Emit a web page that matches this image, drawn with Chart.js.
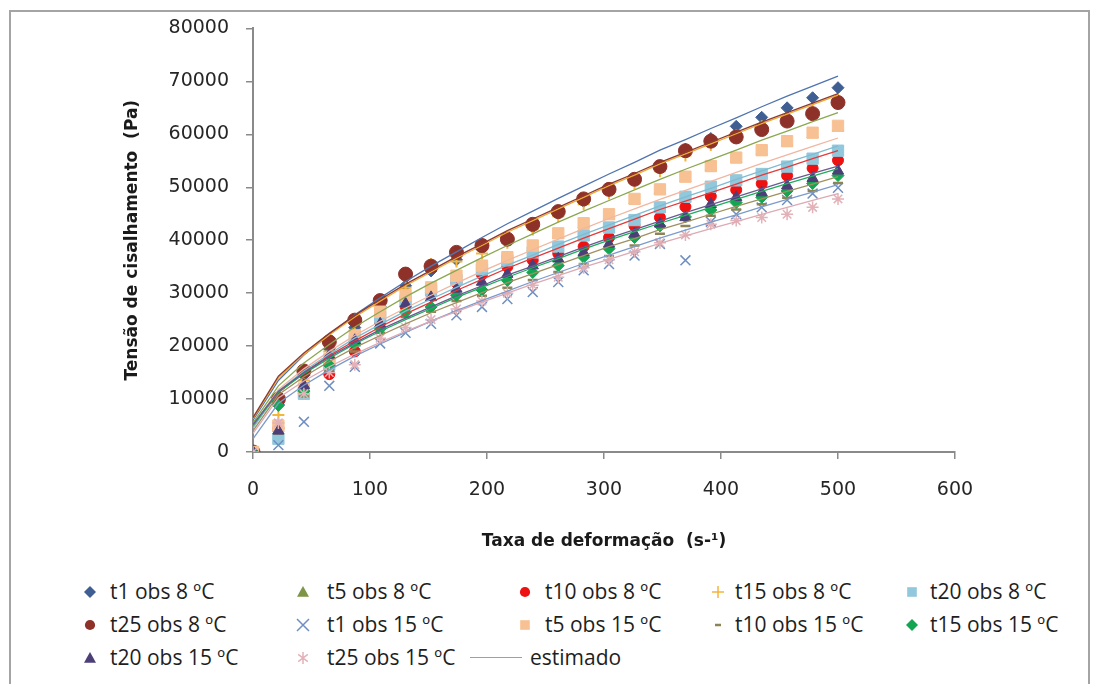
<!DOCTYPE html>
<html>
<head>
<meta charset="utf-8">
<title>Tensão de cisalhamento</title>
<script src="https://cdn.jsdelivr.net/npm/chart.js"></script>
<style>
body{margin:0;background:#fff;}
#wrap{position:relative;width:1096px;height:684px;overflow:hidden;background:#fff;}
#frame{position:absolute;left:9px;top:10px;width:1081px;height:700px;border:2px solid #a4a4a4;box-sizing:border-box;}
#chart{position:absolute;left:0;top:0;}
.leg{position:absolute;font-family:"Open Sans";font-size:21px;color:#1e1e1e;white-space:nowrap;line-height:24px;}
.mk{position:absolute;}
</style>
</head>
<body>
<div id="wrap">
  <div id="frame"></div>
  <canvas id="chart" width="1096" height="560"></canvas>
  <div id="legend"></div>
</div>
<script>
// shear rate (s-1)
const xs = [0, 21.7, 43.5, 65.2, 87, 108.7, 130.4, 152.2, 173.9, 195.7, 217.4, 239.1, 260.9, 282.6, 304.3, 326.1, 347.8, 369.6, 391.3, 413, 434.8, 456.5, 478.3, 500];

// observed shear stress (Pa)
const t1obs8   = [0, 9000, 14500, 19500, 23500, 27500, 31400, 34200, 36300, 38300, 40000, 42500, 45000, 47300, 49300, 51300, 53700, 57200, 59200, 61500, 63200, 65000, 66900, 68800];
const t5obs8   = [0, 4500, 12000, 17000, 21500, 25500, 29000, 30800, 33000, 35000, 36500, 38700, 41000, 43000, 44600, 47500, 49400, 51700, 53700, 55300, 56700, 58400, 60000, 61200];
const t10obs8  = [0, 4500, 11000, 14700, 19000, 24500, 27500, 30000, 32000, 33500, 35000, 36200, 37500, 38800, 40500, 42700, 44300, 46300, 48300, 49500, 50700, 52200, 53600, 55100];
const t15obs8  = [0, 7000, 13500, 19000, 23000, 27000, 31000, 35500, 36000, 37500, 39500, 42000, 44500, 46800, 48800, 50800, 53000, 56000, 58000, 59800, 61500, 63000, 64500, 66500];
const t20obs8  = [0, 2500, 11000, 16500, 21000, 25500, 28500, 30500, 32500, 34500, 36200, 37700, 38800, 40900, 42400, 43800, 46200, 48200, 50100, 51300, 52500, 53900, 55400, 56900];
const t25obs8  = [0, 10000, 15300, 20800, 24900, 28600, 33600, 35100, 37700, 39000, 40200, 43000, 45400, 47800, 49600, 51500, 53900, 56900, 58700, 59500, 60900, 62500, 63900, 66000];
const t1obs15  = [0, 1300, 5700, 12500, 16100, 20500, 22500, 24200, 25800, 27400, 28900, 30200, 32100, 34300, 35500, 37100, 39300, 36200, 43500, 44900, 46200, 47600, 48800, 49900];
const t5obs15  = [0, 5000, 12000, 17500, 22000, 26500, 29600, 31100, 33300, 35200, 36800, 39000, 41300, 43200, 44900, 47800, 49600, 52000, 54000, 55600, 57000, 58700, 60300, 61600];
const t10obs15 = [0, 3500, 10500, 15500, 19000, 22500, 25500, 26500, 28500, 29500, 31000, 32500, 34000, 35500, 37000, 39000, 41200, 42700, 44600, 45800, 46800, 48000, 49300, 50800];
const t15obs15 = [0, 8800, 11500, 16400, 20500, 23300, 26400, 27400, 29600, 30600, 32400, 33900, 35200, 36800, 38400, 40500, 42700, 44400, 45700, 47100, 48100, 49300, 50700, 52200];
const t20obs15 = [0, 4000, 12600, 18300, 21100, 24200, 28000, 29200, 30800, 32100, 33600, 35200, 36500, 37700, 39300, 41200, 43100, 44300, 46800, 48100, 49000, 50300, 51700, 53100];
const t25obs15 = [0, 5500, 11000, 15000, 16500, 21500, 23500, 25000, 27000, 28500, 30000, 31500, 33000, 34800, 36300, 37800, 39500, 41000, 43000, 43700, 44300, 44900, 46200, 47800];

// model estimates (Pa)
const estT1obs8   = [6000, 13500, 18300, 22200, 25900, 29100, 32200, 35100, 37800, 40500, 43100, 45500, 47900, 50200, 52500, 54700, 57000, 59000, 61100, 63100, 65200, 67200, 69100, 71000];
const estT5obs8   = [5500, 12500, 16800, 20300, 23600, 26500, 29300, 31900, 34300, 36700, 39000, 41200, 43400, 45500, 47500, 49500, 51500, 53400, 55200, 57000, 58900, 60600, 62400, 64100];
const estT10obs8  = [4800, 11200, 15000, 18200, 21000, 23600, 26100, 28300, 30500, 32600, 34700, 36600, 38500, 40400, 42200, 44000, 45800, 47400, 49000, 50600, 52300, 53800, 55400, 56900];
const estT15obs8  = [6300, 14000, 18400, 22100, 25500, 28500, 31400, 34000, 36600, 39000, 41500, 43700, 45900, 48100, 50300, 52300, 54400, 56300, 58200, 60100, 62000, 63800, 65600, 67400];
const estT20obs8  = [4500, 11500, 15300, 18500, 21500, 24100, 26600, 28900, 31100, 33200, 35300, 37200, 39200, 41100, 42900, 44700, 46500, 48200, 49800, 51500, 53100, 54700, 56200, 57800];
const estT25obs8  = [6500, 14300, 18700, 22400, 25800, 28800, 31700, 34300, 36900, 39300, 41800, 44000, 46200, 48400, 50600, 52600, 54700, 56600, 58500, 60400, 62300, 64100, 65900, 67700];
const estT1obs15  = [2500, 9200, 12600, 15500, 18100, 20400, 22600, 24700, 26700, 28600, 30400, 32200, 33900, 35600, 37200, 38800, 40400, 41900, 43400, 44800, 46300, 47700, 49100, 50500];
const estT5obs15  = [5000, 11800, 15700, 19000, 22000, 24700, 27200, 29600, 31900, 34100, 36200, 38200, 40200, 42200, 44100, 45900, 47700, 49400, 51100, 52800, 54500, 56100, 57700, 59300];
const estT10obs15 = [4000, 10800, 14200, 17100, 19700, 22000, 24200, 26300, 28200, 30100, 32000, 33700, 35400, 37100, 38800, 40300, 42000, 43400, 44900, 46400, 47800, 49200, 50600, 52000];
const estT15obs15 = [5000, 11300, 14800, 17700, 20400, 22800, 25000, 27100, 29200, 31100, 33000, 34800, 36500, 38300, 40000, 41600, 43200, 44700, 46200, 47700, 49200, 50700, 52100, 53500];
const estT20obs15 = [5200, 11500, 15000, 18000, 20600, 23100, 25300, 27400, 29500, 31400, 33400, 35100, 36900, 38700, 40400, 42000, 43600, 45200, 46700, 48200, 49700, 51200, 52600, 54000];
const estT25obs15 = [3500, 10200, 13400, 16100, 18500, 20700, 22800, 24700, 26500, 28300, 30000, 31700, 33300, 34900, 36400, 37900, 39400, 40800, 42200, 43500, 44900, 46200, 47500, 48800];

const xTicks = [0, 100, 200, 300, 400, 500, 600];
const yTicks = [0, 10000, 20000, 30000, 40000, 50000, 60000, 70000, 80000];

const series = [
  {name: 't1 obs 8 ºC',   obs: t1obs8,   est: estT1obs8,   color: '#3f5f93', line: '#4f74b0', marker: 'rectRot',  r: 6,   bw: 1},
  {name: 't5 obs 8 ºC',   obs: t5obs8,   est: estT5obs8,   color: '#7d9546', line: '#8aa84f', marker: 'triangle', r: 6.5, bw: 1},
  {name: 't10 obs 8 ºC',  obs: t10obs8,  est: estT10obs8,  color: '#ee1111', line: '#e53a3a', marker: 'circle',   r: 5.5, bw: 1},
  {name: 't15 obs 8 ºC',  obs: t15obs8,  est: estT15obs8,  color: '#f3b53c', line: '#eeaa33', marker: 'cross',    r: 6,   bw: 2},
  {name: 't20 obs 8 ºC',  obs: t20obs8,  est: estT20obs8,  color: '#92c8dc', line: '#7fbcd2', marker: 'rect',     r: 8,   bw: 1},
  {name: 't25 obs 8 ºC',  obs: t25obs8,  est: estT25obs8,  color: '#8e3129', line: '#8e3a30', marker: 'circle',   r: 7,   bw: 1},
  {name: 't1 obs 15 ºC',  obs: t1obs15,  est: estT1obs15,  color: '#6f8fc0', line: '#7b9bcc', marker: 'crossRot', r: 7,   bw: 1.5},
  {name: 't5 obs 15 ºC',  obs: t5obs15,  est: estT5obs15,  color: '#f8c193', line: '#f0b6a0', marker: 'rect',     r: 8,   bw: 1},
  {name: 't10 obs 15 ºC', obs: t10obs15, est: estT10obs15, color: '#8c8456', line: '#a09060', marker: 'line',     r: 5,   bw: 2.5},
  {name: 't15 obs 15 ºC', obs: t15obs15, est: estT15obs15, color: '#14a552', line: '#1eae5a', marker: 'rectRot',  r: 6,   bw: 1},
  {name: 't20 obs 15 ºC', obs: t20obs15, est: estT20obs15, color: '#4c3f78', line: '#6a5a94', marker: 'triangle', r: 6.5, bw: 1},
  {name: 't25 obs 15 ºC', obs: t25obs15, est: estT25obs15, color: '#e2b2b8', line: '#dcaab2', marker: 'star',     r: 6,   bw: 1.5}
];

const datasets = [];
series.forEach((s, i) => {
  datasets.push({
    label: s.name,
    data: xs.map((x, j) => ({x: x, y: s.obs[j]})),
    showLine: false,
    pointStyle: s.marker,
    pointRadius: s.r,
    pointBackgroundColor: s.color,
    pointBorderColor: s.color,
    pointBorderWidth: s.bw,
    order: 100 - i
  });
});
// fitted curves go on top of the markers
series.forEach((s, i) => {
  datasets.push({
    label: 'estimado',
    data: xs.map((x, j) => ({x: x, y: s.est[j]})),
    borderColor: s.line,
    borderWidth: 1.3,
    pointRadius: 0,
    tension: 0,
    order: 20 - i
  });
});

const tickFont = {family: 'DejaVu Sans', size: 19};
const titleFont = {family: 'DejaVu Sans', size: 17, weight: 'bold'};
const axisGray = '#8a8a8a';

new Chart(document.getElementById('chart'), {
  type: 'line',
  data: {datasets: datasets},
  options: {
    responsive: false,
    animation: false,
    events: [],
    layout: {padding: {left: 118, right: 141, top: 28, bottom: 4}},
    plugins: {legend: {display: false}, tooltip: {enabled: false}},
    scales: {
      x: {
        type: 'linear', min: 0, max: 600,
        afterBuildTicks: s => { s.ticks = xTicks.map(v => ({value: v})); },
        ticks: {padding: 20, color: '#262626', font: tickFont, maxRotation: 0},
        grid: {drawOnChartArea: false, drawTicks: true, tickLength: 7, color: axisGray, lineWidth: 1.5},
        border: {color: axisGray, width: 2},
        title: {display: true, text: 'Taxa de deformação  (s-¹)', color: '#1a1a1a', font: titleFont, padding: {top: 0, bottom: 4}},
        afterFit: s => { s.height = 104; }
      },
      y: {
        type: 'linear', min: 0, max: 80000,
        afterBuildTicks: s => { s.ticks = yTicks.map(v => ({value: v})); },
        ticks: {padding: 17, color: '#262626', font: tickFont, callback: v => String(v)},
        grid: {drawOnChartArea: false, drawTicks: true, tickLength: 7, color: axisGray, lineWidth: 1.5},
        border: {color: axisGray, width: 2},
        title: {display: true, text: 'Tensão de cisalhamento  (Pa)', color: '#1a1a1a', font: titleFont, padding: {top: 4, bottom: 0}},
        afterFit: s => { s.width = 135; }
      }
    }
  }
});

// legend: 5 columns x 3 rows, same order as the series
const legCols = [{mx: 90, tx: 110}, {mx: 303, tx: 327}, {mx: 525, tx: 545}, {mx: 718, tx: 735}, {mx: 912, tx: 930}];
const legRows = [592, 625, 658];

function markerSvg(kind, color, size) {
  const c = size / 2, h = size / 2 - 1;
  let body = '';
  if (kind === 'rectRot') body = `<polygon points="${c},${c-h} ${c+h},${c} ${c},${c+h} ${c-h},${c}" fill="${color}"/>`;
  else if (kind === 'triangle') body = `<polygon points="${c},${c-h} ${c+h},${c+h*0.8} ${c-h},${c+h*0.8}" fill="${color}"/>`;
  else if (kind === 'circle') body = `<circle cx="${c}" cy="${c}" r="${h*0.85}" fill="${color}"/>`;
  else if (kind === 'rect') body = `<rect x="${c-h*0.8}" y="${c-h*0.8}" width="${h*1.6}" height="${h*1.6}" fill="${color}"/>`;
  else if (kind === 'cross') body = `<path d="M${c} ${c-h}V${c+h}M${c-h} ${c}H${c+h}" stroke="${color}" stroke-width="1.5"/>`;
  else if (kind === 'crossRot') body = `<path d="M${c-h} ${c-h}L${c+h} ${c+h}M${c+h} ${c-h}L${c-h} ${c+h}" stroke="${color}" stroke-width="1.5"/>`;
  else if (kind === 'line') body = `<path d="M${c-3} ${c}H${c+3}" stroke="${color}" stroke-width="2.5"/>`;
  else if (kind === 'star') body = `<path d="M${c} ${c-h}V${c+h}M${c-h*0.8} ${c-h*0.6}L${c+h*0.8} ${c+h*0.6}M${c+h*0.8} ${c-h*0.6}L${c-h*0.8} ${c+h*0.6}" stroke="${color}" stroke-width="1.5"/>`;
  return `<svg width="${size}" height="${size}" xmlns="http://www.w3.org/2000/svg">${body}</svg>`;
}

const legend = document.getElementById('legend');
let html = '';
series.forEach((s, i) => {
  const col = legCols[i % 5], row = legRows[Math.floor(i / 5)];
  html += `<div class="mk" style="left:${col.mx - 7}px;top:${row - 7}px">${markerSvg(s.marker, s.color, 14)}</div>`;
  html += `<div class="leg" style="left:${col.tx}px;top:${row - 13}px">${s.name}</div>`;
});
// single entry for all fitted curves
html += `<div class="mk" style="left:470px;top:${legRows[2] - 1}px;width:52px;height:0;border-top:1.5px solid #a0a0a0"></div>`;
html += `<div class="leg" style="left:530px;top:${legRows[2] - 13}px">estimado</div>`;
legend.innerHTML = html;
</script>
</body>
</html>
